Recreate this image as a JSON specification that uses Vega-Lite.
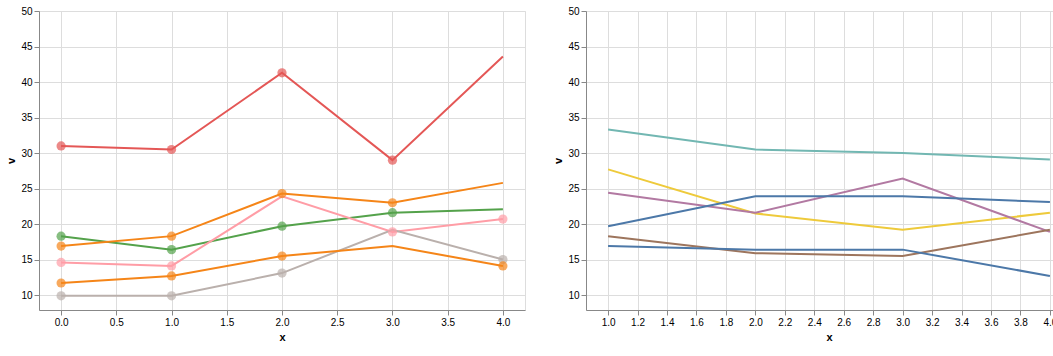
{
  "$schema": "https://vega.github.io/schema/vega-lite/v6.json",
  "spacing": 26,
  "datasets": {
    "defaults": [
      {"p": "L", "x": 3, "note": "default L₃"},
      {"p": "H", "x": 4, "note": "default H₄"}
    ],
    "pts": [
      {"p": "L", "x": 0, "m": "GPT-5.4", "lab": "GPT-5.4  (Δ = 14.6%)", "v": 31.0, "b": false},
      {"p": "L", "x": 1, "m": "GPT-5.4", "lab": "GPT-5.4  (Δ = 14.6%)", "v": 30.5, "b": false},
      {"p": "L", "x": 2, "m": "GPT-5.4", "lab": "GPT-5.4  (Δ = 14.6%)", "v": 41.3, "b": false},
      {"p": "L", "x": 3, "m": "GPT-5.4", "lab": "GPT-5.4  (Δ = 14.6%)", "v": 29.0, "b": false},
      {"p": "L", "x": 4, "m": "GPT-5.4", "lab": "GPT-5.4  (Δ = 14.6%)", "v": 43.6, "b": true},
      {"p": "L", "x": 0, "m": "Gemma-4-31B", "lab": "Gemma-4-31B  (Δ = 5.7%)", "v": 18.3, "b": false},
      {"p": "L", "x": 1, "m": "Gemma-4-31B", "lab": "Gemma-4-31B  (Δ = 5.7%)", "v": 16.4, "b": false},
      {"p": "L", "x": 2, "m": "Gemma-4-31B", "lab": "Gemma-4-31B  (Δ = 5.7%)", "v": 19.7, "b": false},
      {"p": "L", "x": 3, "m": "Gemma-4-31B", "lab": "Gemma-4-31B  (Δ = 5.7%)", "v": 21.6, "b": false},
      {"p": "L", "x": 4, "m": "Gemma-4-31B", "lab": "Gemma-4-31B  (Δ = 5.7%)", "v": 22.1, "b": true},
      {"p": "L", "x": 0, "m": "Kimi-k2.6", "lab": "Kimi-k2.6  (Δ = 9.8%)", "v": 14.6, "b": false},
      {"p": "L", "x": 1, "m": "Kimi-k2.6", "lab": "Kimi-k2.6  (Δ = 9.8%)", "v": 14.1, "b": false},
      {"p": "L", "x": 2, "m": "Kimi-k2.6", "lab": "Kimi-k2.6  (Δ = 9.8%)", "v": 23.9, "b": true},
      {"p": "L", "x": 3, "m": "Kimi-k2.6", "lab": "Kimi-k2.6  (Δ = 9.8%)", "v": 18.9, "b": false},
      {"p": "L", "x": 4, "m": "Kimi-k2.6", "lab": "Kimi-k2.6  (Δ = 9.8%)", "v": 20.7, "b": false},
      {"p": "L", "x": 0, "m": "Qwen3.6-Plus", "lab": "Qwen3.6-Plus  (Δ = 8.9%)", "v": 16.9, "b": false},
      {"p": "L", "x": 1, "m": "Qwen3.6-Plus", "lab": "Qwen3.6-Plus  (Δ = 8.9%)", "v": 18.3, "b": false},
      {"p": "L", "x": 2, "m": "Qwen3.6-Plus", "lab": "Qwen3.6-Plus  (Δ = 8.9%)", "v": 24.3, "b": false},
      {"p": "L", "x": 3, "m": "Qwen3.6-Plus", "lab": "Qwen3.6-Plus  (Δ = 8.9%)", "v": 23.0, "b": false},
      {"p": "L", "x": 4, "m": "Qwen3.6-Plus", "lab": "Qwen3.6-Plus  (Δ = 8.9%)", "v": 25.8, "b": true},
      {"p": "L", "x": 0, "m": "Qwen3.6-27B", "lab": "Qwen3.6-27B  (Δ = 9.3%)", "v": 9.9, "b": false},
      {"p": "L", "x": 1, "m": "Qwen3.6-27B", "lab": "Qwen3.6-27B  (Δ = 9.3%)", "v": 9.9, "b": false},
      {"p": "L", "x": 2, "m": "Qwen3.6-27B", "lab": "Qwen3.6-27B  (Δ = 9.3%)", "v": 13.1, "b": false},
      {"p": "L", "x": 3, "m": "Qwen3.6-27B", "lab": "Qwen3.6-27B  (Δ = 9.3%)", "v": 19.2, "b": true},
      {"p": "L", "x": 4, "m": "Qwen3.6-27B", "lab": "Qwen3.6-27B  (Δ = 9.3%)", "v": 15.0, "b": false},
      {"p": "L", "x": 0, "m": "GLM-4.7", "lab": "GLM-4.7  (Δ = 5.2%)", "v": 11.7, "b": false},
      {"p": "L", "x": 1, "m": "GLM-4.7", "lab": "GLM-4.7  (Δ = 5.2%)", "v": 12.7, "b": false},
      {"p": "L", "x": 2, "m": "GLM-4.7", "lab": "GLM-4.7  (Δ = 5.2%)", "v": 15.5, "b": false},
      {"p": "L", "x": 3, "m": "GLM-4.7", "lab": "GLM-4.7  (Δ = 5.2%)", "v": 16.9, "b": true},
      {"p": "L", "x": 4, "m": "GLM-4.7", "lab": "GLM-4.7  (Δ = 5.2%)", "v": 14.1, "b": false},
      {"p": "H", "x": 1, "m": "GPT-5.4", "lab": "GPT-5.4  (Δ = 4.2%)", "v": 33.3, "b": true},
      {"p": "H", "x": 2, "m": "GPT-5.4", "lab": "GPT-5.4  (Δ = 4.2%)", "v": 30.5, "b": false},
      {"p": "H", "x": 3, "m": "GPT-5.4", "lab": "GPT-5.4  (Δ = 4.2%)", "v": 30.0, "b": false},
      {"p": "H", "x": 4, "m": "GPT-5.4", "lab": "GPT-5.4  (Δ = 4.2%)", "v": 29.1, "b": false},
      {"p": "H", "x": 1, "m": "Gemma-4-31B", "lab": "Gemma-4-31B  (Δ = 8.5%)", "v": 27.7, "b": true},
      {"p": "H", "x": 2, "m": "Gemma-4-31B", "lab": "Gemma-4-31B  (Δ = 8.5%)", "v": 21.5, "b": false},
      {"p": "H", "x": 3, "m": "Gemma-4-31B", "lab": "Gemma-4-31B  (Δ = 8.5%)", "v": 19.2, "b": false},
      {"p": "H", "x": 4, "m": "Gemma-4-31B", "lab": "Gemma-4-31B  (Δ = 8.5%)", "v": 21.6, "b": false},
      {"p": "H", "x": 1, "m": "Kimi-k2.6", "lab": "Kimi-k2.6  (Δ = 7.5%)", "v": 24.4, "b": false},
      {"p": "H", "x": 2, "m": "Kimi-k2.6", "lab": "Kimi-k2.6  (Δ = 7.5%)", "v": 21.6, "b": false},
      {"p": "H", "x": 3, "m": "Kimi-k2.6", "lab": "Kimi-k2.6  (Δ = 7.5%)", "v": 26.4, "b": true},
      {"p": "H", "x": 4, "m": "Kimi-k2.6", "lab": "Kimi-k2.6  (Δ = 7.5%)", "v": 18.9, "b": false},
      {"p": "H", "x": 1, "m": "Qwen3.6-Plus", "lab": "Qwen3.6-Plus  (Δ = 4.2%)", "v": 19.7, "b": false},
      {"p": "H", "x": 2, "m": "Qwen3.6-Plus", "lab": "Qwen3.6-Plus  (Δ = 4.2%)", "v": 23.9, "b": true},
      {"p": "H", "x": 3, "m": "Qwen3.6-Plus", "lab": "Qwen3.6-Plus  (Δ = 4.2%)", "v": 23.9, "b": false},
      {"p": "H", "x": 4, "m": "Qwen3.6-Plus", "lab": "Qwen3.6-Plus  (Δ = 4.2%)", "v": 23.1, "b": false},
      {"p": "H", "x": 1, "m": "Qwen3.6-27B", "lab": "Qwen3.6-27B  (Δ = 3.7%)", "v": 18.3, "b": false},
      {"p": "H", "x": 2, "m": "Qwen3.6-27B", "lab": "Qwen3.6-27B  (Δ = 3.7%)", "v": 15.9, "b": false},
      {"p": "H", "x": 3, "m": "Qwen3.6-27B", "lab": "Qwen3.6-27B  (Δ = 3.7%)", "v": 15.5, "b": false},
      {"p": "H", "x": 4, "m": "Qwen3.6-27B", "lab": "Qwen3.6-27B  (Δ = 3.7%)", "v": 19.2, "b": true},
      {"p": "H", "x": 1, "m": "GLM-4.7", "lab": "GLM-4.7  (Δ = 4.2%)", "v": 16.9, "b": true},
      {"p": "H", "x": 2, "m": "GLM-4.7", "lab": "GLM-4.7  (Δ = 4.2%)", "v": 16.4, "b": false},
      {"p": "H", "x": 3, "m": "GLM-4.7", "lab": "GLM-4.7  (Δ = 4.2%)", "v": 16.4, "b": false},
      {"p": "H", "x": 4, "m": "GLM-4.7", "lab": "GLM-4.7  (Δ = 4.2%)", "v": 12.7, "b": false}
    ]
  },
  "hconcat": [
    {
      "width": 486,
      "height": 299,
      "layer": [
        {
          "data": {"name": "pts"},
          "transform": [{"filter": "datum.p == 'L'"}],
          "mark": {"type": "line"},
          "encoding": {
            "x": {"field": "x", "type": "quantitative", "scale": {"domain": [-0.2, 4.2], "nice": false, "zero": false}},
            "y": {"field": "v", "type": "quantitative", "scale": {"domain": [7.9, 50], "nice": false, "zero": false}},
            "color": {"field": "lab", "type": "nominal"}
          }
        },
        {
          "data": {"name": "pts"},
          "transform": [{"filter": "datum.p == 'L' && !datum.b"}],
          "mark": {"type": "point", "shape": "circle", "filled": true, "size": 85},
          "encoding": {"x": {"field": "x", "type": "quantitative"}, "y": {"field": "v", "type": "quantitative"}, "color": {"field": "lab", "type": "nominal"}}
        }
      ]
    },
    {
      "width": 486,
      "height": 299,
      "layer": [
        {
          "data": {"name": "pts"},
          "transform": [{"filter": "datum.p == 'H'"}],
          "mark": {"type": "line"},
          "encoding": {
            "x": {"field": "x", "type": "quantitative", "scale": {"domain": [0.85, 4.15], "nice": false, "zero": false}},
            "y": {"field": "v", "type": "quantitative", "scale": {"domain": [7.9, 50], "nice": false, "zero": false}},
            "color": {"field": "lab", "type": "nominal"}
          }
        }
      ]
    }
  ]
}
